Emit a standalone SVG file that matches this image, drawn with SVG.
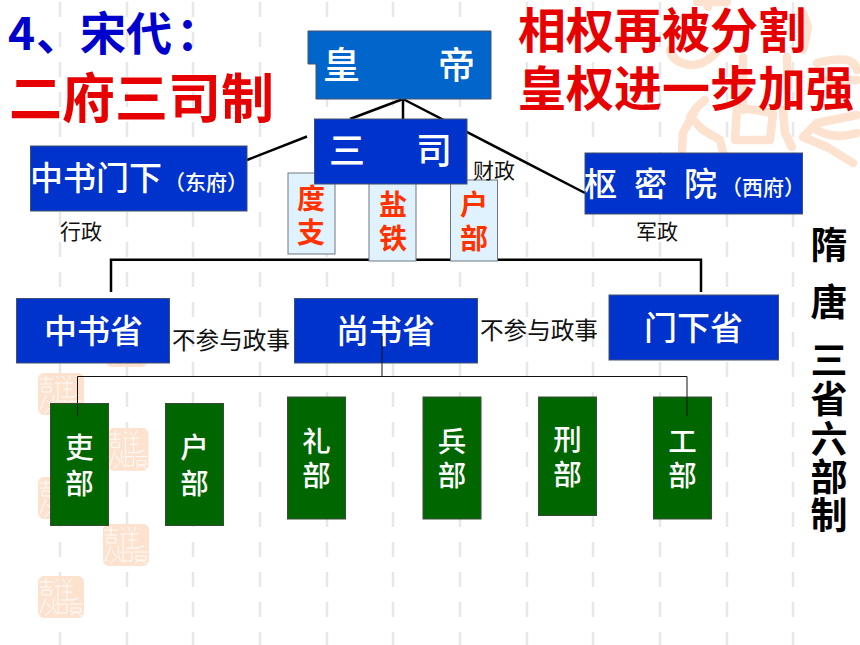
<svg xmlns="http://www.w3.org/2000/svg" width="860" height="645" viewBox="0 0 860 645">
<style>
text{font-family:"Noto Sans CJK SC","Noto Sans",sans-serif}
.dash{stroke:#e8e8e8;stroke-width:2.5;stroke-dasharray:15 15;fill:none}
.blue{fill:#0033cc;stroke:#44506e;stroke-width:1}
.blue2{fill:#0066cc;stroke:#44506e;stroke-width:1}
.green{fill:#006600;stroke:#3a4a3a;stroke-width:1}
.pale{fill:#dff2fd;stroke:#6f7880;stroke-width:1}
.w{fill:#fff;font-weight:500}
.o{fill:#ff3300;font-weight:700;font-size:28px;text-anchor:middle}
.g{fill:#fff;font-weight:500;font-size:28.5px;text-anchor:middle}
.k{fill:#111;font-size:21px}
.n{fill:#111;font-size:23.6px}
.v{fill:#000;font-weight:700;font-size:37px;text-anchor:middle}
.r{fill:#e60000;font-weight:700}
.t{fill:#0000cc;font-weight:700;font-size:46px}
.big{fill:none;stroke:#fde3cf;stroke-width:8.5;stroke-linecap:round;stroke-linejoin:round}
.thick{stroke:#000;stroke-width:2.5;fill:none}
.thin{stroke:#111;stroke-width:1;fill:none}
</style>
<defs>
<g id="seal">
<rect x="0" y="0" width="46" height="42" rx="6" fill="#fde3cf"/>
<path d="M1 6H15M8 2V11M2 11H14M4 14H13V19H4ZM18 3L21 6M17 10H23M20 10V26L17 29M25 3L27 7M33 2L31 7M24 10H35M29 7V25M25 16H34M23 24H36M8 22L2 37M9 27L14 33L7 40M16 22Q13 33 20 39M20 28H29V37H20ZM33 24L41 22M31 28H45M33 32H43V36H33ZM32 39L38 36L44 40" fill="none" stroke="#fff" stroke-width="0.9"/>
</g>
</defs>
<g id="background">
<path class="dash" d="M60 2V645M127 2V645M193 2V645M260 2V645M327 2V645M393 2V645M460 2V645M527 2V645M593 2V645M660 2V645M727 2V645M793 2V645"/>
<use href="#seal" x="38" y="373"/>
<use href="#seal" transform="translate(106 325) scale(0.9 1)"/>
<use href="#seal" transform="translate(108 428) scale(0.88 1.02)"/>
<use href="#seal" x="38" y="477"/>
<use href="#seal" x="103" y="524"/>
<use href="#seal" x="38" y="576"/>
<path class="big" d="M697 2H727M708 0V7M670 50Q672 62 690 65Q707 65 718 50M743 57V110M787 57L788 87M803 13L808 27L803 50M817 63Q835 58 847 60Q855 62 857 70M827 80H857M705 100L697 107L683 133L682 150M697 107L690 117L703 130L720 140L723 152M737 107L735 140H770L773 113M737 107L773 113M783 110L785 133L792 147M803 137L817 123L857 115M803 137L827 147L853 163M817 130Q835 140 857 133"/>
</g>
<g id="connectors">
<path class="thick" d="M403 99V120M403 99L350 119M307 136.5L247 160M403 99L585 193"/>
<path class="thick" d="M111 292V259.7H701V292"/>
<path class="thin" d="M382 336V376.5M77.5 416V376.5H687V416"/>
</g>
<g id="title">
<text class="t" x="8" y="50">4</text>
<text class="t" x="36" y="50">、</text>
<text class="t" x="80" y="50">宋代</text>
<text class="t" x="176" y="50">：</text>
<text class="r" x="9" y="118" font-size="53">二府三司制</text>
<text class="r" x="518" y="48" font-size="48">相权再被分割</text>
<text class="r" x="518" y="106" font-size="48">皇权进一步加强</text>
</g>
<g id="node-huangdi">
<path class="blue2" d="M308 31H491V99H316V64H308Z"/>
<text class="w" x="323" y="79" font-size="37">皇</text>
<text class="w" x="438" y="79" font-size="37">帝</text>
</g>
<g id="node-duzhi">
<rect class="pale" x="288" y="173" width="47" height="81"/>
<text class="o" x="311" y="209">度</text>
<text class="o" x="311" y="243">支</text>
</g>
<g id="node-yantie">
<rect class="pale" x="369" y="180" width="47" height="81"/>
<text class="o" x="393" y="215">盐</text>
<text class="o" x="393" y="249">铁</text>
</g>
<g id="node-hubu-sansi">
<rect class="pale" x="450.5" y="180" width="47" height="81"/>
<text class="o" x="474" y="215">户</text>
<text class="o" x="474" y="249">部</text>
</g>
<g id="node-sansi">
<rect class="blue" x="314.5" y="119" width="152.5" height="65"/>
<text class="w" x="329" y="164" font-size="36">三</text>
<text class="w" x="416" y="164" font-size="36">司</text>
</g>
<g id="node-zhongshumenxia">
<rect class="blue" x="30.5" y="146" width="216.5" height="65"/>
<text class="w" x="30" y="190" font-size="33">中书门下</text>
<text class="w" x="164" y="190" font-size="21">（东府）</text>
</g>
<g id="node-shumiyuan">
<rect class="blue" x="585" y="153" width="217.5" height="61"/>
<text class="w" x="584" y="196" font-size="33">枢</text>
<text class="w" x="634" y="196" font-size="33">密</text>
<text class="w" x="684" y="196" font-size="33">院</text>
<text class="w" x="721" y="195" font-size="21">（西府）</text>
</g>
<g id="labels">
<text class="k" x="60" y="239">行政</text>
<text class="k" x="473" y="178">财政</text>
<text class="k" x="636" y="239">军政</text>
<text class="n" x="172" y="349">不参与政事</text>
<text class="n" x="480" y="339">不参与政事</text>
</g>
<g id="node-zhongshusheng">
<rect class="blue" x="16.5" y="298.5" width="153" height="64.5"/>
<text class="w" x="44" y="343" font-size="33">中书省</text>
</g>
<g id="node-shangshusheng">
<rect class="blue" x="294.5" y="298.5" width="183" height="64.5"/>
<text class="w" x="336" y="343" font-size="33">尚书省</text>
</g>
<g id="node-menxiasheng">
<rect class="blue" x="609" y="295" width="169.5" height="65"/>
<text class="w" x="644" y="340" font-size="33">门下省</text>
</g>
<g id="node-li">
<rect class="green" x="50.5" y="403.5" width="58" height="122"/>
<text class="g" x="79.5" y="458">吏</text>
<text class="g" x="79.5" y="494">部</text>
</g>
<g id="node-hu">
<rect class="green" x="165.5" y="403.5" width="58" height="122"/>
<text class="g" x="194.5" y="458">户</text>
<text class="g" x="194.5" y="494">部</text>
</g>
<g id="node-liBu">
<rect class="green" x="287.5" y="397" width="58" height="122"/>
<text class="g" x="316.5" y="452">礼</text>
<text class="g" x="316.5" y="486">部</text>
</g>
<g id="node-bing">
<rect class="green" x="423" y="397" width="58" height="122"/>
<text class="g" x="452" y="452">兵</text>
<text class="g" x="452" y="486">部</text>
</g>
<g id="node-xing">
<rect class="green" x="538.5" y="397" width="58" height="118.5"/>
<text class="g" x="567.5" y="450">刑</text>
<text class="g" x="567.5" y="485">部</text>
</g>
<g id="node-gong">
<rect class="green" x="653.5" y="397" width="58" height="122"/>
<text class="g" x="682.5" y="452">工</text>
<text class="g" x="682.5" y="486">部</text>
</g>
<path class="thin" d="M77.5 404V416M687 397V416M382 336V363"/>
<g id="side-label">
<text class="v" x="829" y="259">隋</text>
<text class="v" x="829" y="316">唐</text>
<text class="v" x="829" y="374">三</text>
<text class="v" x="829" y="413">省</text>
<text class="v" x="829" y="453">六</text>
<text class="v" x="829" y="491">部</text>
<text class="v" x="829" y="529">制</text>
</g>
</svg>
